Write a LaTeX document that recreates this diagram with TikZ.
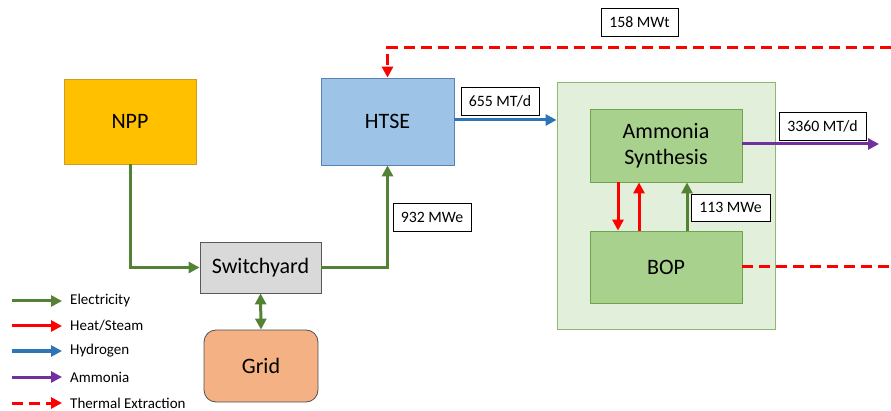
\documentclass[tikz,border=0pt]{standalone}
\usepackage{fontspec}
\setmainfont{Carlito}
\usetikzlibrary{arrows.meta}
\definecolor{nppfill}{HTML}{FFC000}
\definecolor{nppline}{HTML}{D09A2A}
\definecolor{htsefill}{HTML}{9DC3E6}
\definecolor{htseline}{HTML}{5B82B5}
\definecolor{swfill}{HTML}{D9D9D9}
\definecolor{swline}{HTML}{595959}
\definecolor{gridfill}{HTML}{F4B183}
\definecolor{gridline}{HTML}{505050}
\definecolor{plantfill}{HTML}{E2EFDA}
\definecolor{plantline}{HTML}{8DB872}
\definecolor{unitfill}{HTML}{A9D18E}
\definecolor{unitline}{HTML}{6FA34C}
\definecolor{elec}{HTML}{548235}
\definecolor{heat}{HTML}{FF0000}
\definecolor{hydro}{HTML}{2E75B6}
\definecolor{ammo}{HTML}{7030A0}
\begin{document}
\begin{tikzpicture}[x=1pt,y=-1pt,
  block/.style={draw,line width=0.8pt,inner sep=0pt,font=\fontsize{22}{26}\selectfont,align=center},
  tag/.style={draw=black,fill=white,line width=0.8pt,inner sep=0pt,font=\fontsize{15.8}{17}\selectfont},
  flow/.style={line width=3pt,-{Triangle[length=11pt,width=11pt]}},
  extract/.style={flow,heat,dash pattern=on 11pt off 6pt},
  legtext/.style={anchor=west,inner sep=0pt,font=\fontsize{15}{16}\selectfont}]
  \useasboundingbox (0,0) rectangle (891,411);

  % Blocks
  \node[block,fill=nppfill,draw=nppline,minimum width=132pt,minimum height=85pt] (npp) at (130,121.5) {NPP};
  \node[block,fill=htsefill,draw=htseline,minimum width=133pt,minimum height=87pt] (htse) at (387.5,121.5) {HTSE};
  \node[block,fill=swfill,draw=swline,minimum width=121pt,minimum height=51pt] (sw) at (260.5,267.5) {Switchyard};
  \node[block,fill=gridfill,draw=gridline,rounded corners=12pt,minimum width=114pt,minimum height=72pt] (grid) at (261,366) {Grid};
  \node[draw=plantline,fill=plantfill,line width=0.8pt,minimum width=218pt,minimum height=247pt] (plant) at (666,205.5) {};
  \node[block,fill=unitfill,draw=unitline,minimum width=152pt,minimum height=73pt] (nh3) at (666,145.5) {Ammonia\\Synthesis};
  \node[block,fill=unitfill,draw=unitline,minimum width=152pt,minimum height=72pt] (bop) at (666,267) {BOP};

  % Labels
  \node[tag,minimum width=77pt,minimum height=28pt] (mwt) at (639.5,22) {158 MWt};
  \node[tag,minimum width=78pt,minimum height=28pt] (mtd) at (500,101) {655 MT/d};
  \node[tag,minimum width=78pt,minimum height=28pt] (mwe) at (432,217) {932 MWe};
  \node[tag,minimum width=87pt,minimum height=28pt] (nh3out) at (822.5,126) {3360 MT/d};
  \node[tag,minimum width=79pt,minimum height=27pt] (mwe2) at (730.5,207.5) {113 MWe};

  % Free ends
  \coordinate (top) at (891,48);
  \coordinate (right) at (891,267);
  \coordinate (prod) at (879,144);

  % Flows
  \draw[flow,elec] (npp.south) |- (sw.west);
  \draw[flow,elec] (sw.east) -| (htse.south);
  \draw[flow,elec,{Triangle[length=11pt,width=11pt]}-{Triangle[length=11pt,width=11pt]}] (sw.south) -- (grid.north);
  \draw[flow,hydro] (htse.east |- 0,120) -- (plant.west |- 0,120);
  \draw[extract] (top) -| (htse.north);
  \draw[flow,ammo] (nh3.east |- 0,144) -- (prod);
  \draw[flow,heat] (nh3.south -| 618,0) -- (bop.north -| 618,0);
  \draw[flow,heat] (bop.north -| 639,0) -- (nh3.south -| 639,0);
  \draw[flow,elec] (bop.north -| 687,0) -- (nh3.south -| 687,0);
  \draw[line width=3pt,heat,dash pattern=on 11pt off 6pt] (bop.east) -- (right);

  % Legend
  \node[legtext] (lelec) at (70,301) {Electricity};
  \node[legtext] (lheat) at (70,326) {Heat/Steam};
  \node[legtext] (lhydro) at (70,351) {Hydrogen};
  \node[legtext] (lammo) at (70,377) {Ammonia};
  \node[legtext] (lext) at (70,403) {Thermal Extraction};
  \coordinate (a1) at (12,301);
  \coordinate (a2) at (12,326);
  \coordinate (a3) at (12,351);
  \coordinate (a4) at (12,377);
  \coordinate (a5) at (12,403);
  \draw[flow,elec,shorten >=8pt] (a1) -- (lelec.west);
  \draw[flow,heat,shorten >=8pt] (a2) -- (lheat.west);
  \draw[flow,hydro,shorten >=8pt] (a3) -- (lhydro.west);
  \draw[flow,ammo,shorten >=8pt] (a4) -- (lammo.west);
  \draw[extract,shorten >=8pt] (a5) -- (lext.west);
\end{tikzpicture}
\end{document}
